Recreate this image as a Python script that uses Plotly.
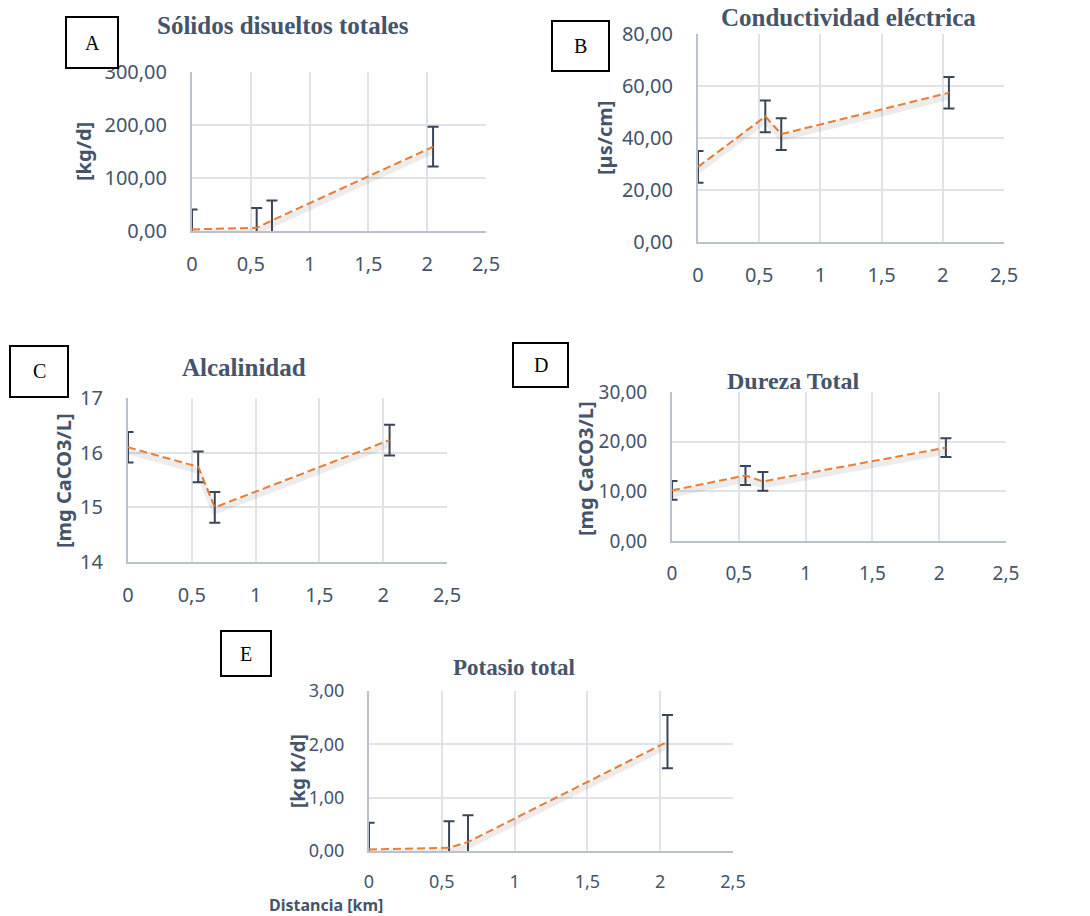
import plotly.graph_objects as go

# Sampling distances along the stream [km]
distancia_km = [0, 0.55, 0.68, 2.05]

# Parameter means and error-bar half widths
solidos = [3, 6, 20, 159]
solidos_err = [37.5, 37.5, 37.5, 37.5]

conductividad = [28.9, 48.3, 41.5, 57.4]
conductividad_err = [6.1, 6.1, 6.1, 6.1]

alcalinidad = [16.1, 15.74, 15.0, 16.23]
alcalinidad_err = [0.28, 0.28, 0.28, 0.28]

dureza = [10.2, 13.2, 12.0, 18.8]
dureza_err = [1.9, 1.9, 1.9, 1.9]

potasio = [0.03, 0.06, 0.17, 2.05]
potasio_err = [0.5, 0.5, 0.5, 0.5]

panel_letters = ["A", "B", "C", "D", "E"]
panel_titles = ["Sólidos disueltos totales", "Conductividad eléctrica",
                "Alcalinidad", "Dureza Total", "Potasio total"]
y_titles = ["[kg/d]", "[µs/cm]", "[mg CaCO3/L]", "[mg CaCO3/L]", "[kg K/d]"]
y_ticks = [[0, 100, 200, 300], [0, 20, 40, 60, 80], [14, 15, 16, 17],
           [0, 10, 20, 30], [0, 1, 2, 3]]
y_formats = [".2f", ".2f", "d", ".2f", ".2f"]
x_ticks = [0, 0.5, 1, 1.5, 2, 2.5]
x_title = "Distancia [km]"

W, H = 1090, 916
def px(x):
    return x / W
def py(y):
    return 1 - y / H

TEXT = "#44546A"
GRID = "#DFE2E8"
AXLINE = "#B9C1CD"
ORANGE = "#ED7D31"
ERRC = "#3A4557"
SHADOW = "rgba(70,70,70,0.10)"
SHADOW_DROP = 4  # px the soft line shadow sits below the series line

series = [(solidos, solidos_err), (conductividad, conductividad_err),
          (alcalinidad, alcalinidad_err), (dureza, dureza_err),
          (potasio, potasio_err)]

# plot-area boxes in pixels: left, top, right, bottom
boxes = [(192, 72, 486, 231), (698, 34, 1004, 242), (128, 398, 447, 562),
         (672, 392, 1006, 541), (369, 691, 733, 851)]
title_pos = [(283, 25), (848, 18), (244, 367), (793, 381), (514, 667)]
title_size = [25, 25, 25, 24, 23]
tick_size = [20, 20, 20, 19, 18]
x_standoff = [14, 14, 14, 14, 13]
ytitle_pos = [(84, 152), (605, 138), (63, 481), (586, 469), (298, 771)]
ytitle_size = [20, 20, 20, 20, 19]
letter_boxes = [(66, 17, 118, 68), (552, 21, 609, 71), (10, 346, 68, 397),
                (513, 343, 568, 387), (221, 631, 271, 676)]

fig = go.Figure()
layout = dict(width=W, height=H, margin=dict(l=0, r=0, t=0, b=0, pad=0),
              paper_bgcolor="white", plot_bgcolor="white",
              separators=",.", showlegend=False, template="none",
              annotations=[], shapes=[])

for i, ((vals, errs), box) in enumerate(zip(series, boxes)):
    n = "" if i == 0 else str(i + 1)
    sn = str(i + 6)
    l, t, r, b = box
    yt = y_ticks[i]
    lo, hi = yt[0], yt[-1]
    shift = SHADOW_DROP * (hi - lo) / (b - t)

    # soft drop shadow under the dashed line
    fig.add_trace(go.Scatter(
        x=distancia_km, y=vals, mode="lines",
        line=dict(color=SHADOW, width=6),
        xaxis="x" + n, yaxis="y" + sn, hoverinfo="skip"))
    fig.add_trace(go.Scatter(
        x=distancia_km, y=vals, mode="lines",
        line=dict(color=ORANGE, width=2, dash="8px,4px"),
        error_y=dict(type="data", array=errs, visible=True,
                     color=ERRC, thickness=2, width=5.5),
        xaxis="x" + n, yaxis="y" + n, hoverinfo="skip"))

    tf = dict(family="Noto Sans", size=tick_size[i], color=TEXT)
    layout["xaxis" + n] = dict(
        domain=[px(l), px(r)], anchor="y" + n, range=[0, 2.5],
        tickvals=x_ticks, showgrid=True, gridcolor=GRID, gridwidth=2,
        showline=True, linecolor=AXLINE, linewidth=2, zeroline=False,
        ticks="", ticklabelstandoff=x_standoff[i], automargin=False,
        tickfont=tf)
    layout["yaxis" + n] = dict(
        domain=[py(b), py(t)], anchor="x" + n, range=[lo, hi],
        tickvals=yt, tickformat=y_formats[i], showgrid=True,
        gridcolor=GRID, gridwidth=2, showline=True, linecolor=AXLINE,
        linewidth=2, zeroline=False, ticks="", ticklabelstandoff=19,
        automargin=False, tickfont=tf)
    layout["yaxis" + sn] = dict(
        overlaying="y" + n, anchor="x" + n, range=[lo + shift, hi + shift],
        visible=False, showgrid=False, zeroline=False, automargin=False)

    tx, ty = title_pos[i]
    layout["annotations"].append(dict(
        text="<b>%s</b>" % panel_titles[i], x=px(tx), y=py(ty),
        xref="paper", yref="paper", showarrow=False,
        xanchor="center", yanchor="middle",
        font=dict(family="Liberation Serif", size=title_size[i], color=TEXT)))
    ax_, ay_ = ytitle_pos[i]
    layout["annotations"].append(dict(
        text="<b>%s</b>" % y_titles[i], x=px(ax_), y=py(ay_),
        xref="paper", yref="paper", showarrow=False, textangle=-90,
        xanchor="center", yanchor="middle",
        font=dict(family="Noto Sans", size=ytitle_size[i], color=TEXT)))

    bl, bt, br, bb = letter_boxes[i]
    layout["shapes"].append(dict(
        type="rect", xref="paper", yref="paper",
        x0=px(bl), x1=px(br), y0=py(bb), y1=py(bt),
        line=dict(color="black", width=2), fillcolor="white", layer="above"))
    layout["annotations"].append(dict(
        text=panel_letters[i], x=px((bl + br) / 2), y=py((bt + bb) / 2),
        xref="paper", yref="paper", showarrow=False,
        xanchor="center", yanchor="middle",
        font=dict(family="Liberation Serif", size=20, color="black")))

layout["annotations"].append(dict(
    text="<b>%s</b>" % x_title, x=px(326), y=py(905),
    xref="paper", yref="paper", showarrow=False,
    xanchor="center", yanchor="middle",
    font=dict(family="Noto Sans", size=16, color=TEXT)))

fig.update_layout(**layout)
fig.write_html("out.html")
